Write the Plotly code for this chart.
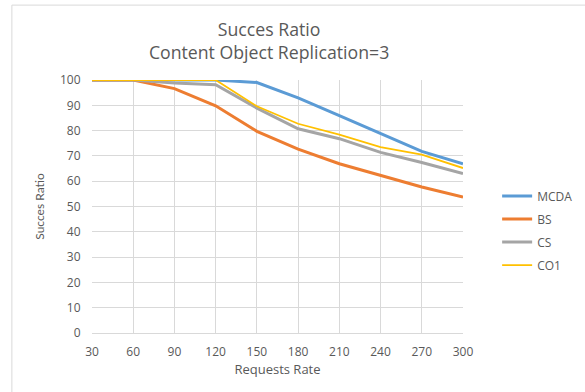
import plotly.graph_objects as go

requests_rate = [30, 60, 90, 120, 150, 180, 210, 240, 270, 300]
mcda = [100, 100, 100, 100, 99, 92.9, 85.9, 79, 71.8, 66.9]
bs = [100, 100, 96.6, 89.8, 79.7, 72.7, 66.9, 62.3, 57.7, 53.7]
cs = [100, 100, 98.8, 98.1, 88.9, 80.7, 76.8, 71.4, 67.4, 63]
co1 = [100, 100, 100, 100, 89.6, 82.7, 78.4, 73.5, 70.5, 65.2]

series = [("MCDA", mcda, "#5B9BD5", 3), ("BS", bs, "#ED7D31", 3),
          ("CS", cs, "#A5A5A5", 3), ("CO1", co1, "#FFC000", 1.8)]

fig = go.Figure()
for name, vals, col, w in series:
    fig.add_trace(go.Scatter(x=requests_rate, y=vals, mode="lines", name=name,
                             legendgroup=name, line=dict(color=col, width=w)))

fig.update_layout(
    width=585, height=392,
    margin=dict(l=92, r=122, t=80, b=59, autoexpand=False),
    paper_bgcolor="white", plot_bgcolor="white",
    font=dict(family="Open Sans", color="#595959", size=11),
    title=dict(text="Succes Ratio<br>Content Object Replication=3", x=0.46, xanchor="center",
               y=0.908, yanchor="top", font=dict(size=17.7, color="#595959")),
    xaxis=dict(range=[30, 300], tickvals=requests_rate, showgrid=True, gridcolor="#d9d9d9",
               gridwidth=1, zeroline=False, showline=True, linecolor="#d9d9d9",
               title=dict(text="Requests Rate", font=dict(size=13), standoff=5),
               ticks="outside", ticklen=8, tickcolor="rgba(0,0,0,0)", tickfont=dict(size=12)),
    yaxis=dict(range=[0, 100], dtick=10, showgrid=True, gridcolor="#d9d9d9", gridwidth=1,
               zeroline=False, showline=False,
               title=dict(text="Succes Ratio", font=dict(size=12, family="Lato"), standoff=12),
               ticks="outside", ticklen=8, tickcolor="rgba(0,0,0,0)", tickfont=dict(size=12)),
    legend=dict(x=1.092, y=0.405, xanchor="left", yanchor="middle", font=dict(size=12),
                bgcolor="rgba(0,0,0,0)", itemwidth=30, tracegroupgap=4),
    showlegend=True,
)
fig.add_shape(type="rect", xref="paper", yref="paper", x0=-0.216, x1=1.35, y0=-0.5, y1=1.296,
              line=dict(color="#d9d9d9", width=1), fillcolor="rgba(0,0,0,0)", layer="above")
fig.write_html("out.html", config={"displayModeBar": False},
               post_script="document.body.style.margin='0';")
